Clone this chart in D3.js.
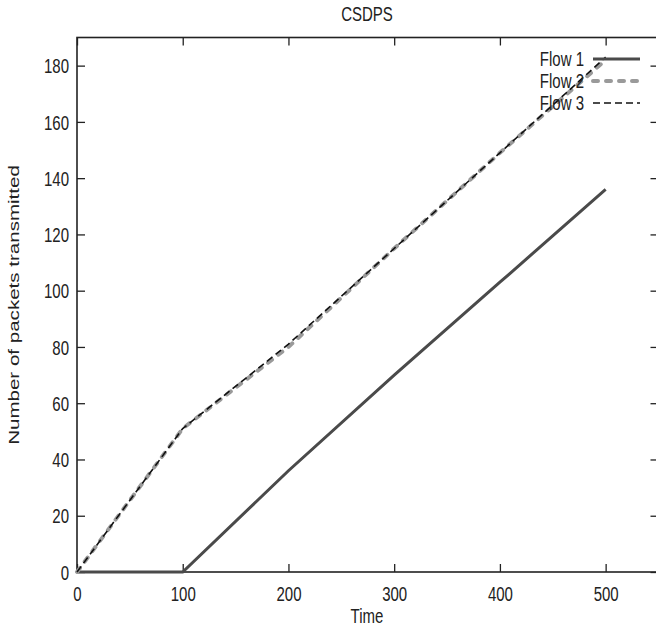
<!DOCTYPE html>
<html>
<head>
<meta charset="utf-8">
<script src="https://cdn.jsdelivr.net/npm/d3@7"></script>
<style>
  html, body { margin: 0; padding: 0; background: #fff; }
  svg { display: block; }
  text { font-family: "Liberation Sans", Arial, Helvetica, sans-serif; fill: #222; }
</style>
</head>
<body>
<svg id="chart" width="656" height="631"></svg>
<script>
// Time samples and cumulative packet counts per flow
const times = [0, 100, 200, 300, 400, 500];
const flow1 = [0, 0, 36, 70, 103, 136];
const flow2 = [0, 51, 80, 115, 149, 182];
const flow3 = [0, 51, 81, 115, 149, 183];

const xTicks = [0, 100, 200, 300, 400, 500];
const yTicks = [0, 20, 40, 60, 80, 100, 120, 140, 160, 180];
const seriesNames = ["Flow 1", "Flow 2", "Flow 3"];

const plotLeft = 77, plotRight = 658.5, plotTop = 37.5, plotBottom = 572;
const stretch = 1.37;   // tall, narrow lettering
const fs = 15;

const svg = d3.select("#chart");

const x = d3.scaleLinear().domain([0, 550]).range([plotLeft, plotRight]);
const y = d3.scaleLinear().domain([0, 190]).range([plotBottom, plotTop]);

// Axes with inward ticks on all four sides
const gx = svg.append("g").attr("transform", `translate(0,${plotBottom})`)
  .call(d3.axisBottom(x).tickValues(xTicks).tickSizeInner(-8).tickSizeOuter(0).tickFormat(d3.format("d")));
gx.selectAll("text")
  .attr("y", 0).attr("dy", "0.35em")
  .attr("transform", `translate(0,22) scale(1,${stretch})`);

const gy = svg.append("g").attr("transform", `translate(${plotLeft},0)`)
  .call(d3.axisLeft(y).tickValues(yTicks).tickSizeInner(-8).tickSizeOuter(0).tickFormat(d3.format("d")));
gy.selectAll("text")
  .attr("x", 0).attr("dy", "0.35em").attr("text-anchor", "end")
  .attr("transform", `translate(-8,0) scale(1,${stretch})`);

svg.append("g").attr("transform", `translate(0,${plotTop})`)
  .call(d3.axisTop(x).tickValues(xTicks).tickSizeInner(-8).tickSizeOuter(0).tickFormat(""));
svg.append("g").attr("transform", `translate(${plotRight},0)`)
  .call(d3.axisRight(y).tickValues(yTicks).tickSizeInner(-8).tickSizeOuter(0).tickFormat(""));

svg.selectAll(".domain").remove();
svg.selectAll(".tick line").attr("stroke", "#222").attr("stroke-width", 1.3);
svg.selectAll(".tick text").attr("font-size", fs).attr("fill", "#222")
  .attr("font-family", "'Liberation Sans', Arial, sans-serif");

// Plot frame
svg.append("rect")
  .attr("x", plotLeft).attr("y", plotTop)
  .attr("width", plotRight - plotLeft).attr("height", plotBottom - plotTop)
  .attr("fill", "none").attr("stroke", "#222").attr("stroke-width", 1.6);

// Series lines
const styles = [
  { data: flow1, stroke: "#4a4a4a", width: 3, dash: null, cap: "butt" },
  { data: flow2, stroke: "#9a9a9a", width: 4, dash: "5,8", cap: "round" },
  { data: flow3, stroke: "#111", width: 1.6, dash: "7,4", cap: "butt" }
];

const line = d3.line().x((d, i) => x(times[i])).y(d => y(d));

styles.forEach(s => {
  svg.append("path")
    .datum(s.data)
    .attr("d", line)
    .attr("fill", "none")
    .attr("stroke", s.stroke)
    .attr("stroke-width", s.width)
    .attr("stroke-linecap", s.cap)
    .attr("stroke-dasharray", s.dash);
});

// Legend
const legendY = [59, 81, 103];
const legendText = ["#333", "#a0a0a0", "#222"];
styles.forEach((s, i) => {
  svg.append("text")
    .attr("font-size", fs)
    .attr("text-anchor", "end")
    .attr("dy", "0.35em")
    .attr("fill", legendText[i])
    .attr("transform", `translate(584,${legendY[i]}) scale(1,${stretch})`)
    .text(seriesNames[i]);
  svg.append("line")
    .attr("x1", 593).attr("x2", 640)
    .attr("y1", legendY[i]).attr("y2", legendY[i])
    .attr("stroke", s.stroke)
    .attr("stroke-width", s.width)
    .attr("stroke-linecap", s.cap)
    .attr("stroke-dasharray", s.dash);
});

// Title and axis labels
svg.append("text")
  .attr("font-size", fs).attr("text-anchor", "middle").attr("dy", "0.35em")
  .attr("transform", `translate(367,14) scale(1,${stretch})`)
  .text("CSDPS");

svg.append("text")
  .attr("font-size", fs).attr("text-anchor", "middle").attr("dy", "0.35em")
  .attr("transform", `translate(367,616) scale(1,${stretch})`)
  .text("Time");

svg.append("text")
  .attr("font-size", fs).attr("text-anchor", "middle").attr("dy", "0.35em")
  .attr("transform", `translate(14,305) scale(1,${stretch}) rotate(-90)`)
  .text("Number of packets transmitted");
</script>
</body>
</html>
